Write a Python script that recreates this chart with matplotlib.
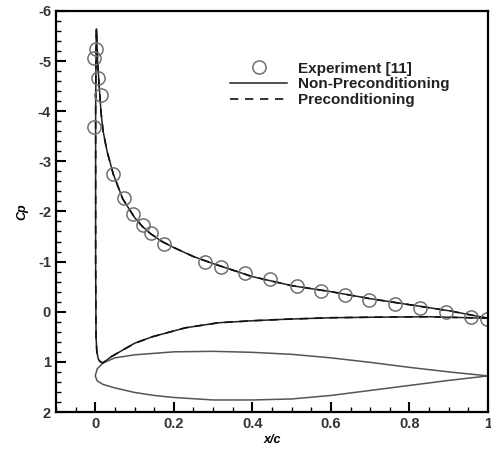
import matplotlib
matplotlib.use("Agg")
import matplotlib.pyplot as plt
from matplotlib.ticker import MultipleLocator

plt.rcParams['font.family'] = ['Liberation Sans', 'DejaVu Sans']

# Experimental data
exp_x = [-0.003, -0.003, 0.003, 0.008, 0.015, 0.046, 0.072, 0.097, 0.122, 0.143, 0.174,
         0.28, 0.319, 0.38, 0.444, 0.513, 0.574, 0.635, 0.696, 0.763, 0.827, 0.893, 0.957, 0.997]
exp_cp = [-3.68, -5.06, -5.24, -4.66, -4.32, -2.74, -2.26, -1.94, -1.72, -1.56, -1.36,
          -1.0, -0.9, -0.78, -0.66, -0.52, -0.42, -0.34, -0.24, -0.16, -0.08, 0.0, 0.1, 0.14]

# Computed Cp (trailing edge upper -> leading edge -> lower -> trailing edge)
cfd_x = [1.0, 0.9, 0.8, 0.7, 0.6, 0.5, 0.4, 0.3, 0.25, 0.2, 0.17, 0.14, 0.12, 0.1, 0.07,
         0.046, 0.03, 0.02, 0.015, 0.01, 0.006, 0.003, 0.002, 0.001, 0.001, 0.002, 0.004,
         0.008, 0.013, 0.02, 0.04, 0.06, 0.1, 0.145, 0.23, 0.314, 0.4, 0.485, 0.6, 0.7, 0.85, 1.0]
cfd_cp = [0.13, -0.02, -0.14, -0.26, -0.4, -0.52, -0.7, -0.96, -1.1, -1.28, -1.4, -1.56, -1.7, -1.88, -2.25,
          -2.74, -3.2, -3.6, -3.95, -4.5, -5.0, -5.64, -5.2, -4.0, -1.0, 0.5, 0.8,
          0.95, 1.0, 1.02, 0.9, 0.81, 0.63, 0.5, 0.32, 0.22, 0.18, 0.15, 0.12, 0.11, 0.1, 0.13]
pre_x = cfd_x
pre_cp = cfd_cp

# Airfoil geometry
af_x = [1.0, 0.9, 0.8, 0.7, 0.6, 0.5, 0.4, 0.3, 0.2, 0.1, 0.05, 0.02, 0.005, 0.0,
        0.005, 0.02, 0.05, 0.1, 0.15, 0.2, 0.3, 0.4, 0.5, 0.6, 0.7, 0.8, 0.9, 1.0]
af_y = [1.28, 1.2, 1.11, 1.01, 0.92, 0.85, 0.81, 0.79, 0.8, 0.86, 0.92, 1.02, 1.14, 1.28,
        1.38, 1.45, 1.52, 1.61, 1.67, 1.71, 1.76, 1.76, 1.74, 1.67, 1.57, 1.47, 1.37, 1.28]

fig = plt.figure(figsize=(4.91, 4.53), dpi=100)
ax = fig.add_axes([0.114, 0.0905, 0.88, 0.8855])

ax.plot(af_x, af_y, color='#555555', lw=1.1)
ax.plot(cfd_x, cfd_cp, color='#222222', lw=1.1, label='Non-Preconditioning')
ax.plot(pre_x, pre_cp, color='#111111', lw=1.2, ls=(0, (5, 4)), label='Preconditioning')
ax.plot(exp_x, exp_cp, ls='none', marker='o', ms=9.5, mfc='none', mec='#707070', mew=1.1,
        label='Experiment [11]')

ax.set_xlim(-0.1, 1.0)
ax.set_ylim(2, -6)
ax.xaxis.set_minor_locator(MultipleLocator(0.05))
ax.yaxis.set_minor_locator(MultipleLocator(0.2))
ax.set_xticks([0, 0.2, 0.4, 0.6, 0.8, 1.0])
ax.set_xticklabels(['0', '0.2', '0.4', '0.6', '0.8', '1'])
ax.set_yticks([-6, -5, -4, -3, -2, -1, 0, 1, 2])
ax.set_yticklabels(['-6', '-5', '-4', '-3', '-2', '-1', '0', '1', '2'])

ax.tick_params(which='major', direction='in', length=7, width=1.5, labelsize=10.5,
               labelcolor='#333333', top=False, right=False)
ax.tick_params(which='minor', direction='in', length=3.5, width=1.0, top=False, right=False)
for lab in ax.get_xticklabels() + ax.get_yticklabels():
    lab.set_fontweight('bold')
for s in ax.spines.values():
    s.set_linewidth(1.6)

ax.set_xlabel('x/c', fontsize=9, fontweight='bold', fontstyle='italic', labelpad=2)
ax.set_ylabel('Cp', fontsize=9, fontweight='bold', fontstyle='italic', labelpad=7)

h, l = ax.get_legend_handles_labels()
order = [2, 0, 1]
leg = ax.legend([h[i] for i in order], [l[i] for i in order], loc='upper left',
                bbox_to_anchor=(0.372, 0.908), frameon=False, handlelength=3.7,
                handletextpad=0.73, labelspacing=0.12,
                prop={'weight': 'bold', 'size': 11})
for t in leg.get_texts():
    t.set_color('#222222')

fig.savefig('out.png', dpi=100)
